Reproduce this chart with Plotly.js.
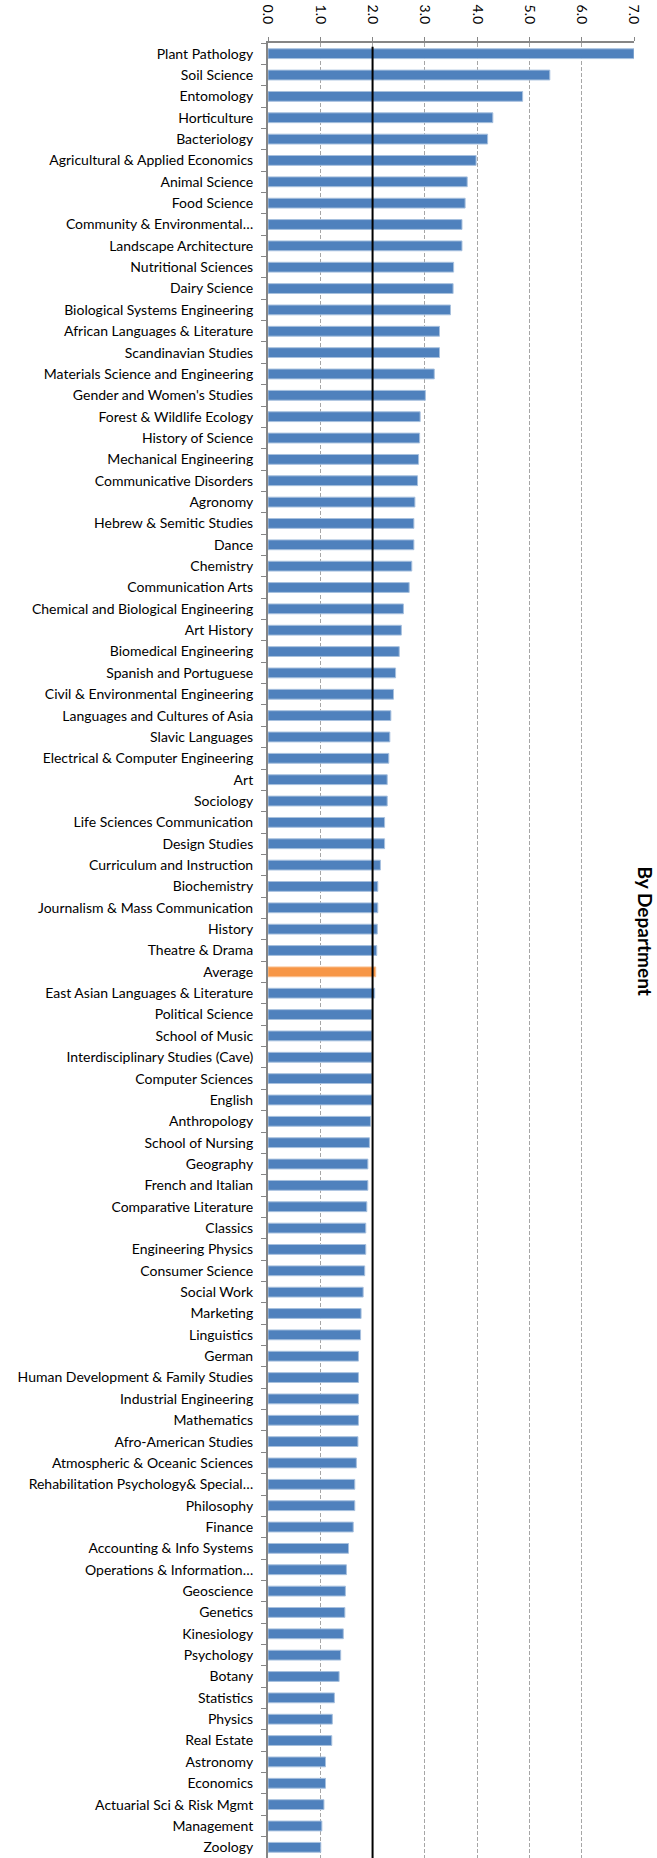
<!DOCTYPE html>
<html>
<head>
<meta charset="utf-8">
<script src="https://cdn.plot.ly/plotly-3.0.1.min.js"></script>
<style>
  html, body { margin: 0; padding: 0; background: #fff; }
  #chart { width: 657px; height: 1858px; }
</style>
</head>
<body>
<div id="chart"></div>
<script>
const departments = [
  "Plant Pathology", "Soil Science", "Entomology", "Horticulture", "Bacteriology",
  "Agricultural & Applied Economics", "Animal Science", "Food Science",
  "Community & Environmental…", "Landscape Architecture", "Nutritional Sciences",
  "Dairy Science", "Biological Systems Engineering", "African Languages & Literature",
  "Scandinavian Studies", "Materials Science and Engineering", "Gender and Women's Studies",
  "Forest & Wildlife Ecology", "History of Science", "Mechanical Engineering",
  "Communicative Disorders", "Agronomy", "Hebrew & Semitic Studies", "Dance", "Chemistry",
  "Communication Arts", "Chemical and Biological Engineering", "Art History",
  "Biomedical Engineering", "Spanish and Portuguese", "Civil & Environmental Engineering",
  "Languages and Cultures of Asia", "Slavic Languages", "Electrical & Computer Engineering",
  "Art", "Sociology", "Life Sciences Communication", "Design Studies",
  "Curriculum and Instruction", "Biochemistry", "Journalism & Mass Communication",
  "History", "Theatre & Drama", "Average", "East Asian Languages & Literature",
  "Political Science", "School of Music", "Interdisciplinary Studies (Cave)",
  "Computer Sciences", "English", "Anthropology", "School of Nursing", "Geography",
  "French and Italian", "Comparative Literature", "Classics", "Engineering Physics",
  "Consumer Science", "Social Work", "Marketing", "Linguistics", "German",
  "Human Development & Family Studies", "Industrial Engineering", "Mathematics",
  "Afro-American Studies", "Atmospheric & Oceanic Sciences",
  "Rehabilitation Psychology& Special…", "Philosophy", "Finance",
  "Accounting & Info Systems", "Operations & Information…", "Geoscience", "Genetics",
  "Kinesiology", "Psychology", "Botany", "Statistics", "Physics", "Real Estate",
  "Astronomy", "Economics", "Actuarial Sci & Risk Mgmt", "Management", "Zoology"
];

const values = [
  7.00, 5.39, 4.87, 4.30, 4.20,
  3.98, 3.81, 3.77,
  3.71, 3.71, 3.55,
  3.54, 3.49, 3.28,
  3.28, 3.18, 3.01,
  2.91, 2.90, 2.88,
  2.86, 2.81, 2.79, 2.79, 2.75,
  2.70, 2.59, 2.55,
  2.51, 2.44, 2.40,
  2.35, 2.33, 2.31,
  2.28, 2.28, 2.23, 2.23,
  2.15, 2.10, 2.10,
  2.09, 2.08, 2.06, 2.04,
  1.99, 1.99, 1.99,
  1.99, 1.99, 1.96, 1.94, 1.91,
  1.91, 1.89, 1.87, 1.87,
  1.85, 1.82, 1.78, 1.77, 1.73,
  1.73, 1.73, 1.73,
  1.72, 1.69,
  1.66, 1.66, 1.63,
  1.54, 1.50, 1.48, 1.47,
  1.44, 1.39, 1.36, 1.27, 1.23, 1.22,
  1.10, 1.10, 1.07, 1.03, 1.01
];

const averageLabel = "Average";
const averageLine = 2.0;
const xTicks = [0, 1, 2, 3, 4, 5, 6, 7];
const chartTitle = "By Department";

const barColors = departments.map(d => d === averageLabel ? "#F79646" : "#4F81BD");
const lineColors = departments.map(d => d === averageLabel ? "#FAC090" : "#A7C0DE");

const trace = {
  type: "bar",
  orientation: "h",
  y: departments,
  x: values,
  width: 0.46,
  marker: { color: barColors, line: { color: lineColors, width: 1 } },
  hoverinfo: "x+y"
};

const fontFam = "Lato, 'Open Sans', sans-serif";

const layout = {
  width: 657,
  height: 1858,
  margin: { l: 268, r: 23, t: 43, b: 0, pad: 0 },
  paper_bgcolor: "#ffffff",
  plot_bgcolor: "#ffffff",
  font: { family: fontFam, size: 14, color: "#000000" },
  showlegend: false,
  bargap: 0.5,
  xaxis: {
    side: "top",
    range: [0, 7],
    tickvals: xTicks,
    tickformat: ".1f",
    tickangle: 90,
    ticks: "outside",
    ticklen: 4,
    tickcolor: "#868686",
    ticklabelstandoff: 8,
    showline: true,
    linecolor: "#868686",
    linewidth: 2,
    showgrid: true,
    gridcolor: "#A6A6A6",
    griddash: "4px,2px",
    gridwidth: 1,
    zeroline: false,
    tickfont: { size: 14, family: fontFam, color: "#000000" },
    fixedrange: true
  },
  yaxis: {
    type: "category",
    autorange: "reversed",
    ticks: "outside",
    tickson: "boundaries",
    ticklen: 5,
    tickcolor: "#868686",
    ticklabelstandoff: 10,
    showline: true,
    linecolor: "#868686",
    linewidth: 2,
    showgrid: false,
    zeroline: false,
    tickfont: { size: 14, family: fontFam, color: "#000000" },
    fixedrange: true
  },
  shapes: [{
    type: "line",
    xref: "x",
    yref: "paper",
    x0: averageLine, x1: averageLine,
    y0: 0, y1: 0.998,
    line: { color: "#000000", width: 2 }
  }],
  annotations: [{
    text: "<b>" + chartTitle + "</b>",
    xref: "paper", yref: "paper",
    x: 1, y: 0.511,
    xanchor: "center", yanchor: "middle",
    xshift: 11,
    textangle: 90,
    showarrow: false,
    font: { size: 19, family: fontFam, color: "#000000" }
  }]
};

Plotly.newPlot("chart", [trace], layout, { displayModeBar: false, staticPlot: true });
</script>
</body>
</html>
